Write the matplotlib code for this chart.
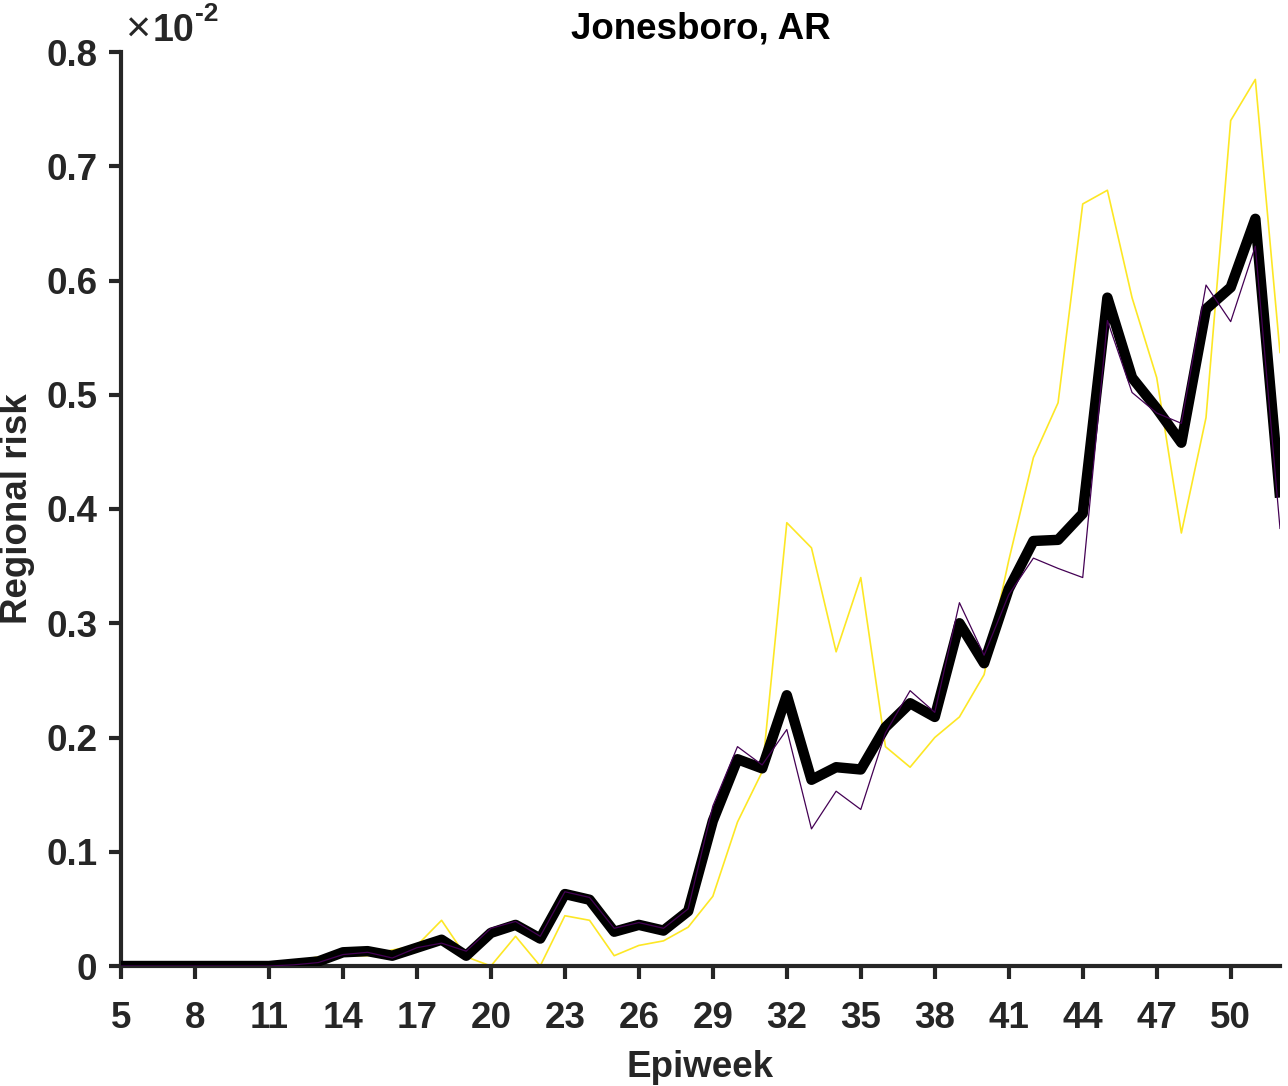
import matplotlib
matplotlib.use("Agg")
import matplotlib.pyplot as plt
import numpy as np

plt.rcParams['font.family'] = ['Liberation Sans', 'DejaVu Sans']

weeks = list(range(5, 53))
# values in units of 1e-2
mean_risk = [0, 0, 0, 0, 0, 0, 0, 0.002, 0.004, 0.012, 0.013, 0.009, 0.016, 0.023, 0.009,
             0.029, 0.036, 0.024, 0.063, 0.058, 0.030, 0.036, 0.031, 0.048, 0.127, 0.181,
             0.173, 0.237, 0.163, 0.174, 0.172, 0.209, 0.230, 0.218, 0.300, 0.265, 0.330,
             0.372, 0.373, 0.396, 0.585, 0.515, 0.488, 0.458, 0.575, 0.594, 0.654, 0.410]
purple_risk = [0, 0, 0, 0, 0, 0, 0, 0.001, 0.003, 0.010, 0.012, 0.007, 0.016, 0.020, 0.013,
               0.033, 0.039, 0.026, 0.065, 0.060, 0.033, 0.038, 0.033, 0.050, 0.140, 0.192,
               0.176, 0.207, 0.120, 0.153, 0.137, 0.204, 0.241, 0.222, 0.318, 0.272, 0.325,
               0.357, 0.348, 0.340, 0.565, 0.502, 0.484, 0.475, 0.596, 0.564, 0.630, 0.383]
yellow_risk = [0, 0, 0, 0, 0, 0, 0, 0.004, 0.008, 0.009, 0.009, 0.014, 0.018, 0.040, 0.008,
               0.000, 0.026, 0.000, 0.044, 0.040, 0.009, 0.018, 0.022, 0.034, 0.061, 0.126,
               0.170, 0.388, 0.366, 0.275, 0.340, 0.192, 0.174, 0.200, 0.218, 0.255, 0.355,
               0.445, 0.493, 0.667, 0.679, 0.585, 0.515, 0.379, 0.480, 0.740, 0.776, 0.537]

xticks = list(range(5, 52, 3))
yticks = [0, 0.1, 0.2, 0.3, 0.4, 0.5, 0.6, 0.7, 0.8]
ytick_labels = ['0', '0.1', '0.2', '0.3', '0.4', '0.5', '0.6', '0.7', '0.8']

fig = plt.figure(figsize=(12.88, 10.86), dpi=100)
ax = fig.add_axes([121/1288, 1 - 966/1086, (1280 - 121)/1288, (966 - 52)/1086])

ax.plot(weeks, yellow_risk, color='#FDE725', lw=1.2, zorder=2)
ax.plot(weeks, mean_risk, color='black', lw=7.5, zorder=3,
        solid_joinstyle='round', solid_capstyle='butt')
ax.plot(weeks, purple_risk, color='#440154', lw=0.9, zorder=4)

ax.set_xlim(5, 52)
ax.set_ylim(0, 0.8)
ax.set_xticks(xticks)
ax.set_xticklabels([str(t) for t in xticks])
ax.set_yticks(yticks)
ax.set_yticklabels(ytick_labels)

for s in ['top', 'right']:
    ax.spines[s].set_visible(False)
for s in ['left', 'bottom']:
    ax.spines[s].set_color('#262626')
    ax.spines[s].set_linewidth(3)
ax.tick_params(direction='out', length=9, width=3, color='#262626',
               labelsize=26.5, labelcolor='#262626')
ax.tick_params(axis='x', pad=16)
ax.tick_params(axis='y', pad=8)
for lab in ax.get_xticklabels() + ax.get_yticklabels():
    lab.set_fontweight('bold')

ax.set_xlabel('Epiweek', fontsize=26.5, fontweight='bold', color='#262626', labelpad=10)
ax.set_ylabel('Regional risk', fontsize=26.5, fontweight='bold', color='#262626', labelpad=8)
ax.set_title('Jonesboro, AR', fontsize=26.5, fontweight='bold', color='black', pad=10)

fig.text(125/1288, 1 - 42/1086, '×', fontsize=31, color='#262626', va='baseline', ha='left')
fig.text(153/1288, 1 - 41/1086, '10', fontsize=27, fontweight='bold', color='#262626', va='baseline', ha='left')
fig.text(195/1288, 1 - 21/1086, '-2', fontsize=19, fontweight='bold', color='#262626', va='baseline', ha='left')

fig.savefig('out.png', dpi=100)
